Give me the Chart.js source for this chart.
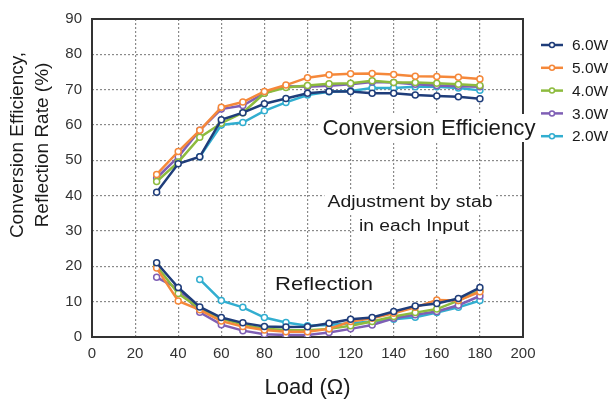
<!DOCTYPE html>
<html>
<head>
<meta charset="utf-8">
<script src="https://cdn.jsdelivr.net/npm/chart.js@4"></script>
<style>
  body { margin: 0; background: #fff; }
</style>
</head>
<body>
<canvas id="chart" width="613" height="405"></canvas>
<script>
// load values (ohm)
var loads = [30, 40, 50, 60, 70, 80, 90, 100, 110, 120, 130, 140, 150, 160, 170, 180];

// conversion efficiency (%)
var eff6 = [41, 49, 51, 61.5, 63.5, 66, 67.5, 69, 69.5, 69.5, 69, 69, 68.5, 68.2, 68, 67.4];
var eff5 = [46, 52.5, 58.5, 65, 66.5, 69.5, 71.3, 73.4, 74.2, 74.5, 74.6, 74.3, 73.8, 73.7, 73.5, 73];
var eff4 = [44, 49.5, 56.5, 60.5, 63.5, 69, 70.6, 71.2, 71.7, 71.8, 72.5, 72, 72, 71.8, 71.5, 71.2];
var eff3 = [45, 51, 58.5, 64.5, 65.5, 69, 71, 70.8, 71.1, 71.5, 72.2, 72, 71.5, 71.2, 71, 70.8];
var eff2 = [null, null, 51, 60, 60.7, 64, 66.4, 68.5, 69.4, 69.6, 70.5, 70.5, 70.8, 70.8, 70.5, 69.8];

// reflection rate (%)
var refl6 = [21, 14, 8.5, 5.5, 4, 3, 2.8, 2.9, 3.9, 5, 5.5, 7.2, 8.8, 9.5, 10.9, 14];
var refl5 = [19.5, 10.2, 7.7, 4.5, 3, 2, 1.5, 1.5, 2.3, 4.4, 5.3, 6.7, 8.4, 10.5, 10.3, 12.8];
var refl4 = [20.1, 12.3, 8.1, 5.2, 3.5, 2.3, 2, 1.9, 2.3, 3.2, 4.4, 5.8, 6.9, 7.9, 10.3, 13.1];
var refl3 = [16.9, 13.7, 7, 3.5, 1.8, 0.8, 0.6, 0.6, 1.3, 2.3, 3.4, 5.3, 6.3, 7.2, 9, 11.6];
var refl2 = [null, null, 16.3, 10.3, 8.4, 5.5, 4.1, 3.2, 3.4, 3.9, 4.4, 5, 5.6, 6.9, 8.4, 10.3];

var seriesNames = ['6.0W', '5.0W', '4.0W', '3.0W', '2.0W'];
var seriesColors = ['#1f3d7a', '#f5883a', '#8dbb3e', '#7f5fb5', '#32aed0'];

var FONT = '"Liberation Sans", Arial, sans-serif';

function pts(arr) {
    var out = [];
    for (var i = 0; i < loads.length; i++) {
        if (arr[i] !== null) out.push({ x: loads[i], y: arr[i] });
    }
    return out;
}

function makeSet(label, color, arr) {
    return {
        label: label,
        data: pts(arr),
        borderColor: color,
        backgroundColor: '#ffffff',
        borderWidth: 2.5,
        pointRadius: 3,
        pointBorderWidth: 1.5,
        pointBackgroundColor: '#ffffff',
        pointBorderColor: color,
        tension: 0
    };
}

var effSets = [eff6, eff5, eff4, eff3, eff2];
var reflSets = [refl6, refl5, refl4, refl3, refl2];
var datasets = [];
for (var i = 0; i < 5; i++) {
    datasets.push(makeSet(seriesNames[i], seriesColors[i], effSets[i]));
}
for (var i = 0; i < 5; i++) {
    datasets.push(makeSet(seriesNames[i] + ' R', seriesColors[i], reflSets[i]));
}

// frame around the plot, taken from the scales
var frame = {
    id: 'frame',
    beforeDatasetsDraw: function(chart) {
        var sx = chart.scales.x, sy = chart.scales.y;
        var l = sx.getPixelForValue(0), r = sx.getPixelForValue(200);
        var t = sy.getPixelForValue(90), b = sy.getPixelForValue(0);
        var ctx = chart.ctx;
        ctx.save();
        ctx.strokeStyle = '#333';
        ctx.lineWidth = 2;
        ctx.strokeRect(l, t, r - l, b - t);
        ctx.restore();
    }
};

// labels with white box behind, y title and legend
var extras = {
    id: 'extras',
    afterDraw: function(chart) {
        var ctx = chart.ctx;
        ctx.save();

        // text stretched to the width it has in the picture
        function boxText(text, cx, cy, size, width, boxH, padX) {
            ctx.font = size + 'px ' + FONT;
            var w = ctx.measureText(text).width;
            var k = width / w;
            ctx.fillStyle = '#ffffff';
            ctx.fillRect(cx - width / 2 - padX, cy - boxH / 2, width + padX * 2, boxH);
            ctx.fillStyle = '#1a1a1a';
            ctx.textAlign = 'center';
            ctx.textBaseline = 'middle';
            ctx.save();
            ctx.translate(cx, cy);
            ctx.scale(k, 1);
            ctx.fillText(text, 0, 1);
            ctx.restore();
        }

        boxText('Conversion Efficiency', 429, 128, 22, 213, 28, 3);
        boxText('Adjustment by stab', 410, 202, 16, 165, 24, 3);
        boxText('in each Input', 414, 226, 16, 110, 24, 3);
        boxText('Reflection', 324, 284, 19, 98, 28, 5);

        // y axis title
        ctx.fillStyle = '#1a1a1a';
        ctx.font = '19px ' + FONT;
        ctx.textAlign = 'center';
        ctx.textBaseline = 'middle';
        ctx.translate(18, 145);
        ctx.rotate(-Math.PI / 2);
        ctx.fillText('Conversion Efficiency,', 0, 0);
        ctx.fillText('Reflection Rate (%)', 0, 25);
        ctx.setTransform(1, 0, 0, 1, 0, 0);

        // legend
        ctx.font = '15.5px ' + FONT;
        ctx.textAlign = 'left';
        for (var k = 0; k < 5; k++) {
            var y = 45 + k * 22.8;
            ctx.strokeStyle = seriesColors[k];
            ctx.lineWidth = 2.5;
            ctx.beginPath();
            ctx.moveTo(541, y);
            ctx.lineTo(563, y);
            ctx.stroke();
            ctx.beginPath();
            ctx.arc(552, y, 2.5, 0, Math.PI * 2);
            ctx.fillStyle = '#ffffff';
            ctx.fill();
            ctx.lineWidth = 1.5;
            ctx.stroke();
            ctx.fillStyle = '#1a1a1a';
            ctx.fillText(seriesNames[k], 572, y + 1);
        }
        ctx.restore();
    }
};

new Chart(document.getElementById('chart'), {
    type: 'line',
    data: { datasets: datasets },
    options: {
        responsive: false,
        animation: false,
        layout: { padding: { top: 18, right: 90, left: 0, bottom: 0 } },
        plugins: {
            legend: { display: false },
            tooltip: { enabled: false }
        },
        scales: {
            x: {
                type: 'linear',
                min: 0,
                max: 200,
                afterFit: function(s) { s.height = 68; },
                ticks: {
                    stepSize: 20,
                    color: '#333',
                    font: { family: FONT, size: 15 },
                    padding: 8,
                    maxRotation: 0
                },
                grid: { color: '#8a8a8a', lineWidth: 1.2, drawTicks: false },
                border: { display: false, dash: [2, 2] },
                title: {
                    display: true,
                    text: 'Load (Ω)',
                    color: '#1a1a1a',
                    font: { family: FONT, size: 22 },
                    padding: { top: 6 }
                }
            },
            y: {
                min: 0,
                max: 90,
                afterFit: function(s) { s.width = 92; },
                ticks: {
                    stepSize: 10,
                    color: '#333',
                    font: { family: FONT, size: 15 },
                    padding: 10
                },
                grid: { color: '#8a8a8a', lineWidth: 1.2, drawTicks: false },
                border: { display: false, dash: [2, 2] }
            }
        }
    },
    plugins: [frame, extras]
});
</script>
</body>
</html>
